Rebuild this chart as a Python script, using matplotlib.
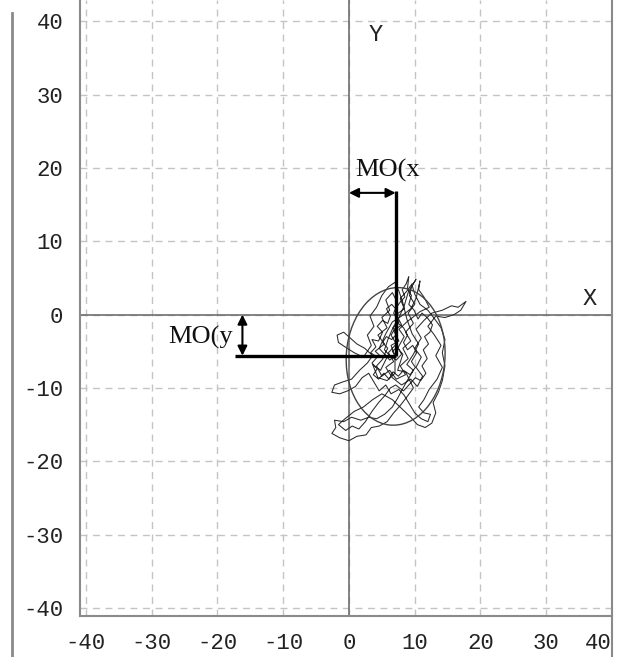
import matplotlib
matplotlib.use("Agg")
import matplotlib.pyplot as plt
from matplotlib.patches import Ellipse
from matplotlib.lines import Line2D

# ---------------- data ----------------
x_ticks = [-40, -30, -20, -10, 0, 10, 20, 30, 40]
y_ticks = [-40, -30, -20, -10, 0, 10, 20, 30, 40]

mo_x = 7.1          # mean offset along X
mo_y = -5.6         # mean offset along Y
mo_x_line_top = 16.9
mo_y_line_left = -17.4
arrow_x_level = 16.6
arrow_y_pos = -16.2

ellipse_center = (7.1, -5.7)
ellipse_width = 15.0
ellipse_height = 18.8
ellipse_angle = -6

trace_points = [
    (7.0, -5.6), (6.4, -4.2), (7.6, -3.6), (6.8, -2.2), (8.0, -1.4), (7.2, 0.0),
    (8.4, 0.8), (7.8, 2.2), (8.8, 3.2), (9.6, 4.2), (9.2, 2.6), (10.0, 1.4),
    (9.0, 0.2), (9.8, -1.2), (8.6, -2.4), (9.4, -3.6), (8.2, -4.6), (9.0, -6.0),
    (7.8, -7.0), (8.6, -8.2), (7.2, -8.8), (6.2, -7.6), (5.0, -8.4), (4.2, -7.0),
    (5.2, -6.0), (4.0, -5.0), (5.4, -4.0), (4.4, -2.8), (5.8, -1.8), (5.0, -0.4),
    (6.2, 0.6), (5.6, 2.0), (6.6, 3.0), (7.4, 1.6), (6.8, 0.2), (7.6, -1.0),
    (6.4, -2.8), (7.2, -4.0), (6.0, -5.2), (6.8, -6.4), (5.6, -7.2), (6.6, -8.6),
    (8.0, -9.6), (9.4, -8.8), (10.4, -9.8), (11.2, -8.4), (10.2, -7.2), (11.0, -5.8),
    (10.0, -4.6), (11.0, -3.2), (10.2, -2.0), (11.4, -0.8), (12.6, 0.2), (14.2, 0.6),
    (15.6, 1.2), (16.6, 1.0), (17.8, 1.8), (17.0, 0.6), (16.0, 0.0), (14.6, -0.4),
    (13.2, -0.2), (12.0, -1.6), (13.0, -2.8), (14.0, -4.2), (13.2, -5.6), (14.2, -7.2),
    (13.4, -8.8), (12.2, -10.2), (11.4, -11.6), (10.6, -12.6), (11.4, -13.4), (12.4, -13.6),
    (12.0, -14.6), (11.0, -14.2), (10.0, -13.4), (9.2, -12.2), (8.4, -11.0), (7.6, -10.2),
    (6.4, -10.8), (5.6, -9.6), (4.6, -10.4), (3.8, -9.2), (3.0, -8.0), (2.0, -8.6),
    (1.0, -9.8), (-0.2, -10.4), (-1.4, -10.8), (-2.6, -10.6), (-2.2, -9.6), (-1.0, -9.2),
    (0.4, -8.8), (1.6, -7.6), (2.8, -6.6), (3.6, -5.6), (2.4, -4.6), (1.2, -4.0),
    (0.2, -3.2), (-0.8, -2.4), (-1.8, -2.8), (-1.6, -3.8), (-0.6, -4.4), (0.8, -5.2),
    (2.2, -5.8), (3.4, -4.2), (2.8, -2.8), (3.8, -1.6), (3.2, -0.2), (4.2, 1.0),
    (5.0, 2.6), (6.0, 3.8), (7.0, 4.4), (7.6, 3.2), (8.2, 1.6), (8.8, -0.6),
    (9.6, -2.6), (10.6, -4.0), (9.8, -5.4), (8.8, -6.8), (9.8, -7.6), (8.6, -9.4),
    (7.4, -11.4), (6.6, -12.6), (5.4, -13.6), (4.2, -14.2), (3.0, -14.0), (1.8, -14.4),
    (0.4, -14.0), (-0.8, -14.6), (-2.2, -14.4), (-2.0, -15.4), (-2.6, -16.2), (-1.4, -16.8),
    (0.0, -17.2), (1.2, -16.6), (2.6, -16.4), (3.4, -15.4), (4.6, -15.2), (5.8, -14.6),
    (6.8, -13.4), (7.8, -12.4), (9.0, -11.0), (9.8, -10.0), (8.6, -7.8), (7.4, -7.6),
    (8.2, -5.4), (7.4, -4.6), (8.4, -3.0), (7.6, -2.0), (8.8, -1.0), (10.8, 0.4),
    (12.2, 1.0), (11.4, 2.4), (10.6, 3.4), (10.8, 4.6), (10.2, 2.2), (9.4, 0.8),
    (8.0, -0.2), (6.6, -1.0), (5.6, -2.6), (4.6, -4.6), (5.8, -5.8), (4.8, -7.6),
    (3.6, -6.8), (4.4, -8.6), (5.8, -9.0), (7.0, -8.0), (7.0, -5.6),
    (6.2, -6.2), (5.4, -5.4), (5.9, -4.6), (5.1, -3.8), (5.7, -3.0), (6.5, -3.4),
    (7.3, -2.6), (6.7, -1.8), (7.5, -1.2), (8.3, -1.8), (8.9, -2.8), (8.3, -3.8),
    (8.9, -4.8), (9.7, -4.2), (10.3, -5.2), (9.5, -6.4), (10.1, -7.2), (9.3, -8.2),
    (8.3, -7.6), (7.5, -8.4), (6.7, -7.8), (6.1, -8.8), (5.3, -8.0), (4.5, -8.8),
    (3.7, -8.2), (4.3, -7.4), (3.5, -6.6), (4.3, -5.8), (3.3, -5.2), (4.1, -4.4),
    (3.5, -3.4), (4.5, -3.6), (5.1, -2.4), (4.3, -1.6), (5.1, -0.8), (5.9, -1.2),
    (6.3, -0.2), (5.7, 0.8), (6.5, 1.4), (7.1, 0.8), (7.7, 1.6), (8.5, 2.4),
    (8.1, 3.4), (8.7, 4.2), (9.1, 5.2), (8.9, 3.6), (9.5, 2.6), (9.1, 1.4),
    (9.9, 0.6), (10.5, -0.6), (11.1, 0.2), (11.9, -0.4), (12.7, -1.4), (12.3, -2.4),
    (11.5, -3.0), (12.1, -4.0), (11.3, -4.8), (11.9, -6.0), (11.1, -7.0), (11.7, -8.0),
    (10.9, -9.0), (10.1, -8.6), (9.1, -9.6), (8.3, -10.4), (7.1, -9.6), (6.3, -10.0),
    (5.5, -11.0), (4.5, -12.0), (3.5, -13.2), (2.5, -14.6), (1.5, -15.6), (0.5, -15.2),
    (-0.5, -15.8), (-1.6, -15.0), (-0.6, -14.2), (0.8, -13.2), (2.2, -12.6), (3.6, -11.6),
    (5.0, -10.8), (6.6, -11.6), (8.0, -12.8), (9.4, -14.0), (10.4, -15.0), (11.6, -15.4),
    (12.6, -14.8), (13.2, -13.4), (12.8, -12.0), (13.6, -10.6), (14.2, -9.0), (14.6, -7.0),
    (14.2, -5.2), (14.6, -3.4), (14.0, -1.8), (13.2, -0.8), (12.0, 0.6), (10.8, 1.4),
    (10.0, 2.8), (9.6, 4.0), (10.2, 4.8), (9.0, 3.0), (8.4, 1.2), (7.6, -0.4),
    (6.8, -1.6), (6.0, -3.2), (5.4, -4.8), (6.2, -5.6), (7.2, -6.2), (8.0, -5.4),
    (7.4, -4.4), (6.6, -5.0), (7.0, -5.6),
]

# ---------------- figure ----------------
W, H = 617, 657
fig = plt.figure(figsize=(W / 100, H / 100), dpi=100)
fig.patch.set_facecolor("white")
ax = fig.add_axes([80 / W, 41 / H, 532 / W, 616 / H])
ax.set_xlim(-40.9, 40)
ax.set_ylim(-41.1, 42.9)

mono = "Liberation Mono"
serif = "Liberation Serif"
grey = "#8a8a8a"

ax.set_xticks(x_ticks)
ax.set_yticks(y_ticks)
ax.set_xticklabels([str(v) for v in x_ticks], family=mono, fontsize=16, color="#222222")
ax.set_yticklabels([str(v) for v in y_ticks], family=mono, fontsize=16, color="#222222")
ax.get_xticklabels()[-1].set_horizontalalignment("right")
ax.tick_params(length=0, pad=12)
ax.grid(True, ls=(0, (5, 4)), color="#c4c4c4", lw=1.0)
ax.set_axisbelow(True)

ax.spines["top"].set_visible(False)
for s in ("left", "bottom", "right"):
    ax.spines[s].set_color(grey)
    ax.spines[s].set_linewidth(1.5)

# axes through origin
ax.axhline(0, color="#6e6e6e", lw=1.2, zorder=1)
ax.axvline(0, color="#6e6e6e", lw=1.2, zorder=1)

# trace
tx = [p[0] for p in trace_points]
ty = [p[1] for p in trace_points]
ax.plot(tx, ty, color="#2a2a2a", lw=0.75, zorder=3)

# confidence ellipse
ax.add_patch(Ellipse(ellipse_center, ellipse_width, ellipse_height, angle=ellipse_angle,
                     fill=False, edgecolor="#444444", lw=1.0, zorder=3))

# mean offset lines
ax.plot([mo_x, mo_x], [mo_x_line_top, mo_y], color="black", lw=2.4, zorder=4,
        solid_capstyle="butt")
ax.plot([mo_y_line_left, mo_x], [mo_y, mo_y], color="black", lw=2.4, zorder=4,
        solid_capstyle="butt")

arrow_kw = dict(arrowstyle="<|-|>", color="black", lw=1.5, mutation_scale=14,
                shrinkA=0, shrinkB=0)
ax.annotate("", xy=(0, arrow_x_level), xytext=(mo_x, arrow_x_level), arrowprops=arrow_kw)
ax.annotate("", xy=(arrow_y_pos, 0), xytext=(arrow_y_pos, mo_y), arrowprops=arrow_kw)

ax.text(0.9, 19.6, "MO(x", family=serif, fontsize=19, ha="left", va="center", color="#111111")
ax.text(-17.7, -3.1, "MO(y", family=serif, fontsize=19, ha="right", va="center", color="#111111")

ax.text(4.0, 38.2, "Y", family=mono, fontsize=17, ha="center", va="center", color="#222222")
ax.text(36.6, 2.2, "X", family=mono, fontsize=17, ha="center", va="center", color="#222222")

# decorative frame lines
fig.add_artist(Line2D([12 / W, 12 / W], [0, 1 - 13 / H], color=grey, lw=2,
                      transform=fig.transFigure))
fig.add_artist(Line2D([612 / W, 612 / W], [0, 41 / H], color=grey, lw=1.5,
                      transform=fig.transFigure))

fig.savefig("out.png", dpi=100)
